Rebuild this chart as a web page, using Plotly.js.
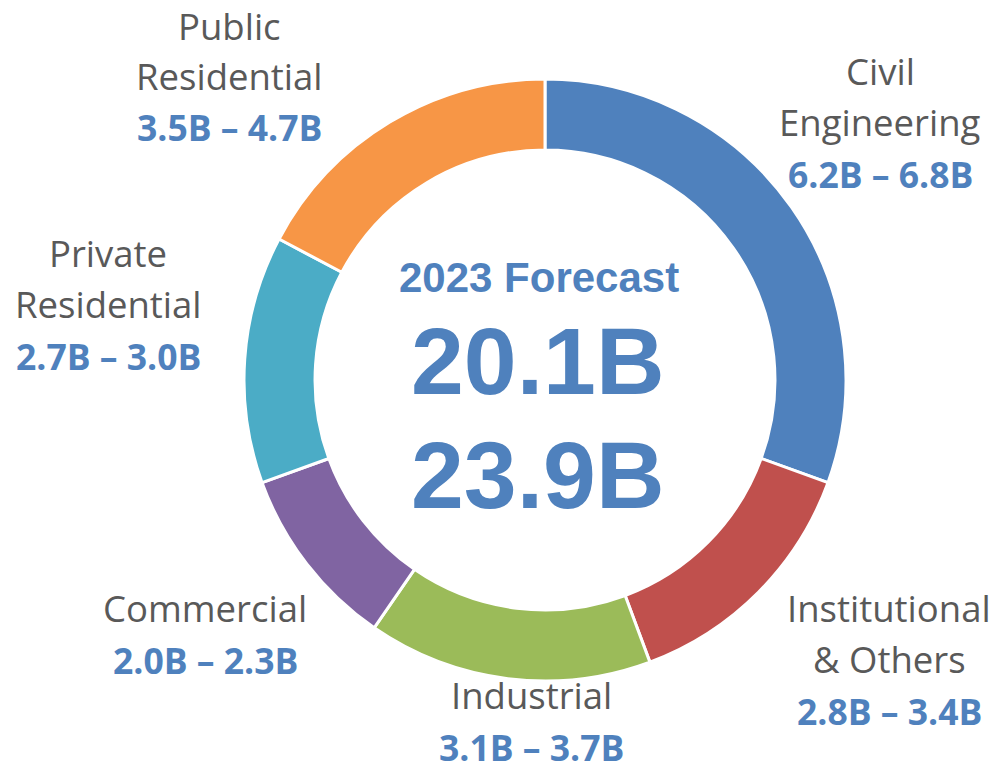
<!DOCTYPE html>
<html>
<head>
<meta charset="utf-8">
<script src="https://cdn.plot.ly/plotly-3.0.1.min.js"></script>
<style>html,body{margin:0;padding:0;background:#fff;}#chart{width:996px;height:772px;}</style>
</head>
<body>
<div id="chart"></div>
<script>
// Data
const categories = ["Civil Engineering", "Institutional & Others", "Industrial", "Commercial", "Private Residential", "Public Residential"];
const labelLines = ["Civil<br>Engineering", "Institutional<br>& Others", "Industrial", "Commercial", "Private<br>Residential", "Public<br>Residential"];
const lowValues = [6.2, 2.8, 3.1, 2.0, 2.7, 3.5];
const highValues = [6.8, 3.4, 3.7, 2.3, 3.0, 4.7];
const colors = ["#4F81BD", "#C0504D", "#9BBB59", "#8064A2", "#4BACC6", "#F79646"];
const centerTitle = "2023 Forecast";
const totalLow = "20.1B";
const totalHigh = "23.9B";

// label layout: [center x px, baseline px of first line]
const labelPos = [[880, 85], [889, 622], [531, 709], [205, 622], [108, 267], [229, 40]];

const W = 996, H = 772;
const nameFont = "'Open Sans', Lato, sans-serif";
const nameSize = 36.5, rangeSize = 35.5;
const annotations = [];
function addLine(text, cx, baseline, size, color, family, bold, asc) {
  const cy = baseline - asc * size;
  annotations.push({
    xref: "paper", yref: "paper", x: cx / W, y: 1 - cy / H,
    xanchor: "center", yanchor: "middle", showarrow: false,
    text: bold ? "<b>" + text + "</b>" : text,
    font: {family: family, size: size, color: color}
  });
}
categories.forEach((c, i) => {
  const lines = labelLines[i].split("<br>");
  const [cx, b0] = labelPos[i];
  const step = (i === 5) ? 50.5 : 51.5;
  lines.forEach((ln, j) => addLine(ln, cx, b0 + j * step, nameSize, "#595959", nameFont, false, 0.388));
  const rangeText = lowValues[i].toFixed(1) + "B \u2013 " + highValues[i].toFixed(1) + "B";
  addLine(rangeText, cx, b0 + lines.length * step, rangeSize, "#4F81BD", nameFont, true, 0.388);
});
const cFont = "'Liberation Sans', Arial, sans-serif";
addLine(centerTitle, 539, 292, 42, "#4F81BD", cFont, true, 0.35);
addLine(totalLow, 538, 394, 95, "#4F81BD", cFont, true, 0.35);
addLine(totalHigh, 538, 508, 95, "#4F81BD", cFont, true, 0.35);

const trace = {
  type: "pie",
  labels: categories,
  values: lowValues,
  sort: false,
  direction: "clockwise",
  rotation: 0,
  hole: 0.764,
  textinfo: "none",
  hoverinfo: "label+value",
  marker: {colors: colors, line: {color: "#FFFFFF", width: 3}},
  domain: {x: [244 / W, 846 / W], y: [1 - 681 / H, 1 - 79 / H]},
  showlegend: false
};
const layout = {
  width: W, height: H,
  margin: {l: 0, r: 0, t: 0, b: 0},
  paper_bgcolor: "#FFFFFF",
  plot_bgcolor: "#FFFFFF",
  showlegend: false,
  annotations: annotations
};
Plotly.newPlot("chart", [trace], layout, {displayModeBar: false, staticPlot: true});
</script>
</body>
</html>
